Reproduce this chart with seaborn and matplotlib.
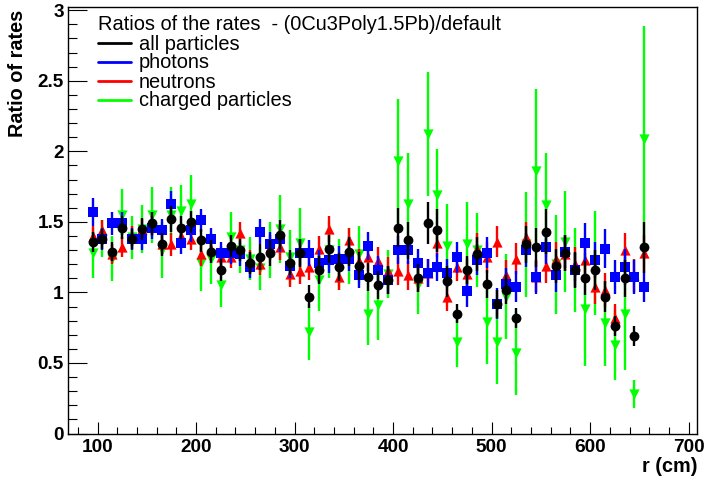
import numpy as np
import pandas as pd
import matplotlib
matplotlib.use("Agg")
import matplotlib.pyplot as plt
import seaborn as sns
from matplotlib.lines import Line2D
from matplotlib.ticker import FixedLocator, FixedFormatter, MultipleLocator

# ---------------- data ----------------
r_cm = [95, 105, 115, 125, 135, 145, 155, 165, 175, 185,
        195, 205, 215, 225, 235, 245, 255, 265, 275, 285,
        295, 305, 315, 325, 335, 345, 355, 365, 375, 385,
        395, 405, 415, 425, 435, 445, 455, 465, 475, 485,
        495, 505, 515, 525, 535, 545, 555, 565, 575, 585,
        595, 605, 615, 625, 635, 645, 655]

all_particles = [1.36, 1.38, 1.29, 1.46, 1.38, 1.45, 1.49, 1.34, 1.52, 1.46,
                 1.50, 1.37, 1.29, 1.16, 1.33, 1.30, 1.21, 1.25, 1.28, 1.41,
                 1.21, 1.28, 0.97, 1.16, 1.31, 1.18, 1.29, 1.19, 1.11, 1.05,
                 1.09, 1.46, 1.37, 1.10, 1.49, 1.44, 1.08, 0.85, 1.16, 1.27,
                 1.06, 0.92, 1.02, 0.82, 1.34, 1.32, 1.43, 1.19, 1.28, 1.16,
                 1.10, 1.16, 0.97, 0.76, 1.10, 0.69, 1.32]
all_err = [0.07, 0.07, 0.07, 0.08, 0.07, 0.08, 0.08, 0.08, 0.09, 0.08,
           0.08, 0.08, 0.08, 0.08, 0.08, 0.08, 0.08, 0.09, 0.09, 0.10,
           0.09, 0.10, 0.08, 0.10, 0.10, 0.10, 0.10, 0.10, 0.10, 0.10,
           0.10, 0.14, 0.13, 0.10, 0.15, 0.15, 0.11, 0.07, 0.10, 0.12,
           0.10, 0.10, 0.10, 0.07, 0.13, 0.14, 0.16, 0.12, 0.13, 0.13,
           0.12, 0.14, 0.11, 0.07, 0.13, 0.07, 0.18]

photons = [1.57, 1.38, 1.49, 1.49, 1.38, 1.38, 1.46, 1.44, 1.63, 1.35,
           1.44, 1.51, 1.38, 1.28, 1.28, 1.27, 1.18, 1.43, 1.34, 1.38,
           1.19, 1.28, 1.28, 1.21, 1.23, 1.24, 1.24, 1.12, 1.33, 1.16,
           1.09, 1.30, 1.30, 1.21, 1.14, 1.18, 1.14, 1.25, 1.01, 1.23,
           1.28, 0.92, 1.06, 1.04, 1.30, 1.11, 1.32, 1.12, 1.29, 1.16,
           1.35, 1.23, 1.31, 1.11, 1.18, 1.11, 1.04]
photons_err = [0.10, 0.08, 0.08, 0.08, 0.08, 0.08, 0.08, 0.08, 0.09, 0.08,
               0.08, 0.08, 0.08, 0.08, 0.08, 0.08, 0.08, 0.09, 0.09, 0.09,
               0.09, 0.09, 0.09, 0.09, 0.09, 0.09, 0.09, 0.09, 0.10, 0.10,
               0.10, 0.10, 0.10, 0.10, 0.10, 0.10, 0.10, 0.11, 0.11, 0.11,
               0.11, 0.11, 0.11, 0.11, 0.12, 0.12, 0.12, 0.12, 0.12, 0.12,
               0.14, 0.13, 0.14, 0.12, 0.13, 0.12, 0.11]

neutrons = [1.40, 1.44, 1.27, 1.32, 1.40, 1.45, 1.47, 1.34, 1.34, 1.40,
            1.38, 1.27, 1.31, 1.25, 1.25, 1.42, 1.22, 1.20, 1.32, 1.32,
            1.13, 1.15, 1.18, 1.31, 1.45, 1.11, 1.37, 1.22, 1.25, 1.22,
            1.15, 1.15, 1.12, 1.10, 1.14, 1.35, 0.97, 1.18, 1.13, 1.31,
            1.25, 1.36, 1.12, 1.24, 1.39, 1.11, 1.19, 1.24, 1.27, 1.20,
            1.23, 1.04, 1.02, 0.82, 1.30, 1.12, 1.28]
neutrons_err = [0.07, 0.07, 0.07, 0.07, 0.07, 0.07, 0.07, 0.07, 0.08, 0.08,
                0.08, 0.08, 0.08, 0.08, 0.08, 0.08, 0.08, 0.08, 0.09, 0.09,
                0.09, 0.09, 0.09, 0.09, 0.09, 0.09, 0.09, 0.09, 0.10, 0.10,
                0.10, 0.10, 0.10, 0.10, 0.10, 0.10, 0.10, 0.10, 0.11, 0.11,
                0.11, 0.11, 0.11, 0.11, 0.11, 0.11, 0.12, 0.12, 0.12, 0.12,
                0.12, 0.12, 0.12, 0.10, 0.12, 0.12, 0.13]

charged = [1.28, 1.38, 1.24, 1.55, 1.39, 1.45, 1.55, 1.30, 1.55, 1.58,
           1.63, 1.21, 1.24, 1.05, 1.39, 1.30, 1.24, 1.17, 1.30, 1.45,
           1.25, 1.35, 0.72, 1.09, 1.30, 1.20, 1.26, 1.27, 0.85, 0.91,
           1.13, 1.93, 1.63, 1.05, 2.12, 1.69, 1.33, 0.65, 1.34, 1.30,
           0.79, 0.65, 0.97, 0.57, 1.34, 1.86, 1.62, 1.20, 1.36, 1.16,
           0.88, 1.21, 0.78, 0.63, 0.85, 0.28, 2.09]
charged_err = [0.18, 0.13, 0.16, 0.18, 0.15, 0.17, 0.20, 0.20, 0.20, 0.18,
               0.20, 0.20, 0.18, 0.15, 0.18, 0.16, 0.15, 0.15, 0.20, 0.24,
               0.19, 0.25, 0.20, 0.22, 0.20, 0.18, 0.20, 0.20, 0.22, 0.25,
               0.17, 0.44, 0.36, 0.20, 0.44, 0.33, 0.30, 0.18, 0.30, 0.26,
               0.30, 0.30, 0.30, 0.30, 0.37, 0.58, 0.37, 0.35, 0.36, 0.30,
               0.40, 0.37, 0.30, 0.25, 0.40, 0.10, 0.80]

series_names = ["all particles", "photons", "neutrons", "charged particles"]
legend_title = "Ratios of the rates  - (0Cu3Poly1.5Pb)/default"
x_label = "r (cm)"
y_label = "Ratio of rates"
x_ticks = [100, 200, 300, 400, 500, 600, 700]
x_tick_labels = ["100", "200", "300", "400", "500", "600", "700"]
y_ticks = [0, 0.5, 1, 1.5, 2, 2.5, 3]
y_tick_labels = ["0", "0.5", "1", "1.5", "2", "2.5", "3"]

# ---------------- style ----------------
sns.set_style("white")
plt.rcParams["font.family"] = ["Liberation Sans", "DejaVu Sans"]
plt.rcParams["text.color"] = "black"
plt.rcParams["axes.labelcolor"] = "black"
plt.rcParams["xtick.color"] = "black"
plt.rcParams["ytick.color"] = "black"

colors = {"all particles": "#000000", "photons": "#0000ff",
          "neutrons": "#ff0000", "charged particles": "#00ff00"}
markers = {"all particles": "o", "photons": "s",
           "neutrons": "^", "charged particles": "v"}
msizes = {"all particles": 50, "photons": 48,
          "neutrons": 54, "charged particles": 54}

values = {"all particles": (all_particles, all_err),
          "photons": (photons, photons_err),
          "neutrons": (neutrons, neutrons_err),
          "charged particles": (charged, charged_err)}

frames = []
for name in series_names:
    v, e = values[name]
    frames.append(pd.DataFrame({"r": r_cm, "ratio": v, "err": e, "series": name}))
df = pd.concat(frames, ignore_index=True)

W, H = 704, 482
fig = plt.figure(figsize=(W / 100, H / 100), dpi=100)
ax = fig.add_axes([68 / W, 1 - 433.5 / H, (697 - 68) / W, (433.5 - 7) / H])

draw_order = ["charged particles", "neutrons", "photons", "all particles"]
for name in draw_order:
    sub = df[df["series"] == name]
    ax.errorbar(sub["r"], sub["ratio"], yerr=sub["err"], fmt="none",
                ecolor=colors[name], elinewidth=1.7, capsize=0, zorder=3)
    sns.scatterplot(data=sub, x="r", y="ratio", marker=markers[name],
                    color=colors[name], s=msizes[name], linewidth=0,
                    edgecolor=colors[name], ax=ax, zorder=3, legend=False)

ax.set_xlim(70, 708.5)
ax.set_ylim(0, 3.023)
ax.set_xlabel("")
ax.set_ylabel("")

ax.xaxis.set_major_locator(FixedLocator(x_ticks))
ax.xaxis.set_major_formatter(FixedFormatter(x_tick_labels))
ax.xaxis.set_minor_locator(MultipleLocator(20))
ax.yaxis.set_major_locator(FixedLocator(y_ticks))
ax.yaxis.set_major_formatter(FixedFormatter(y_tick_labels))
ax.yaxis.set_minor_locator(MultipleLocator(0.1))

ax.tick_params(axis="x", which="major", direction="in", length=9, width=0.8,
               color="black", labelcolor="black", pad=4, labelsize=13.7)
ax.tick_params(axis="x", which="minor", direction="in", length=4.7, width=0.8,
               color="black")
ax.tick_params(axis="y", which="major", direction="in", length=13.7, width=0.8,
               color="black", labelcolor="black", pad=3, labelsize=13.7)
ax.tick_params(axis="y", which="minor", direction="in", length=6.8, width=0.8,
               color="black")
ax.tick_params(bottom=True, left=True, top=False, right=False, which="both")
for lab in ax.get_xticklabels() + ax.get_yticklabels():
    lab.set_fontweight("bold")

for sp in ax.spines.values():
    sp.set_visible(True)
    sp.set_color("black")
    sp.set_linewidth(1.0)

fig.text(18 / W, 1 - 10 / H, y_label, rotation=90, ha="center", va="top",
         fontsize=14.3, fontweight="bold", color="black")
fig.text(697 / W, 1 - 466 / H, x_label, ha="right", va="center",
         fontsize=14.3, fontweight="bold", color="black")

handles = [Line2D([], [], color=colors[n], lw=2) for n in series_names]
leg = ax.legend(handles, series_names, title=legend_title,
                loc="upper left", bbox_to_anchor=(98 / W, 1 - 15.5 / H),
                bbox_transform=fig.transFigure, frameon=False,
                fontsize=14.4, title_fontsize=14.4, borderpad=0,
                borderaxespad=0, labelspacing=0.0, handlelength=1.65,
                handletextpad=0.4, alignment="left", labelcolor="black")
leg.get_title().set_color("black")

fig.savefig("out.png", dpi=100)
